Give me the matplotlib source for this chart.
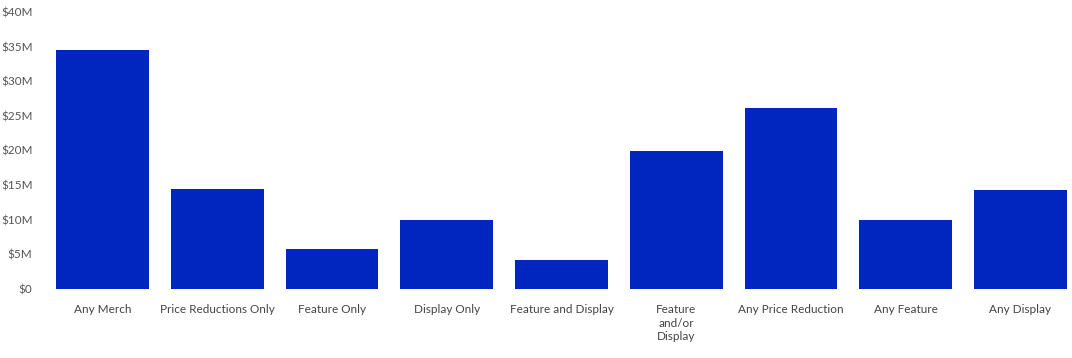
import matplotlib.pyplot as plt
from matplotlib.ticker import FuncFormatter

## chart data
categories = ['Any Merch', 'Price Reductions Only', 'Feature Only', 'Display Only',
              'Feature and Display', 'Feature\nand/or\nDisplay', 'Any Price Reduction',
              'Any Feature', 'Any Display']
sales_m = [34.5, 14.45, 5.8, 10.0, 4.2, 19.95, 26.15, 10.0, 14.3]  # $ millions
y_ticks = [0, 5, 10, 15, 20, 25, 30, 35, 40]

plt.rcParams['font.family'] = ['Lato', 'DejaVu Sans']

fig = plt.figure(figsize=(10.72, 3.58), dpi=100)
ax = fig.add_axes([45 / 1072, 69 / 358, 1 - 45 / 1072, 277 / 358])

x = list(range(len(categories)))
ax.bar(x, sales_m, width=0.81, color='#0026C0')

ax.set_xlim(-0.501, 8.449)
ax.set_ylim(0, 40)
ax.set_yticks(y_ticks)
ax.yaxis.set_major_formatter(FuncFormatter(lambda v, p: '$0' if v == 0 else '$%dM' % v))
ax.set_xticks(x)
ax.set_xticklabels(categories, linespacing=1.28)

for s in ax.spines.values():
    s.set_visible(False)
ax.tick_params(axis='y', length=0, pad=9, labelsize=8.5, labelcolor='#555555')
ax.tick_params(axis='x', length=0, pad=11, labelsize=8.5, labelcolor='#444444')
for lbl in ax.get_xticklabels():
    lbl.set_verticalalignment('top')

plt.savefig('out.png', dpi=100)
